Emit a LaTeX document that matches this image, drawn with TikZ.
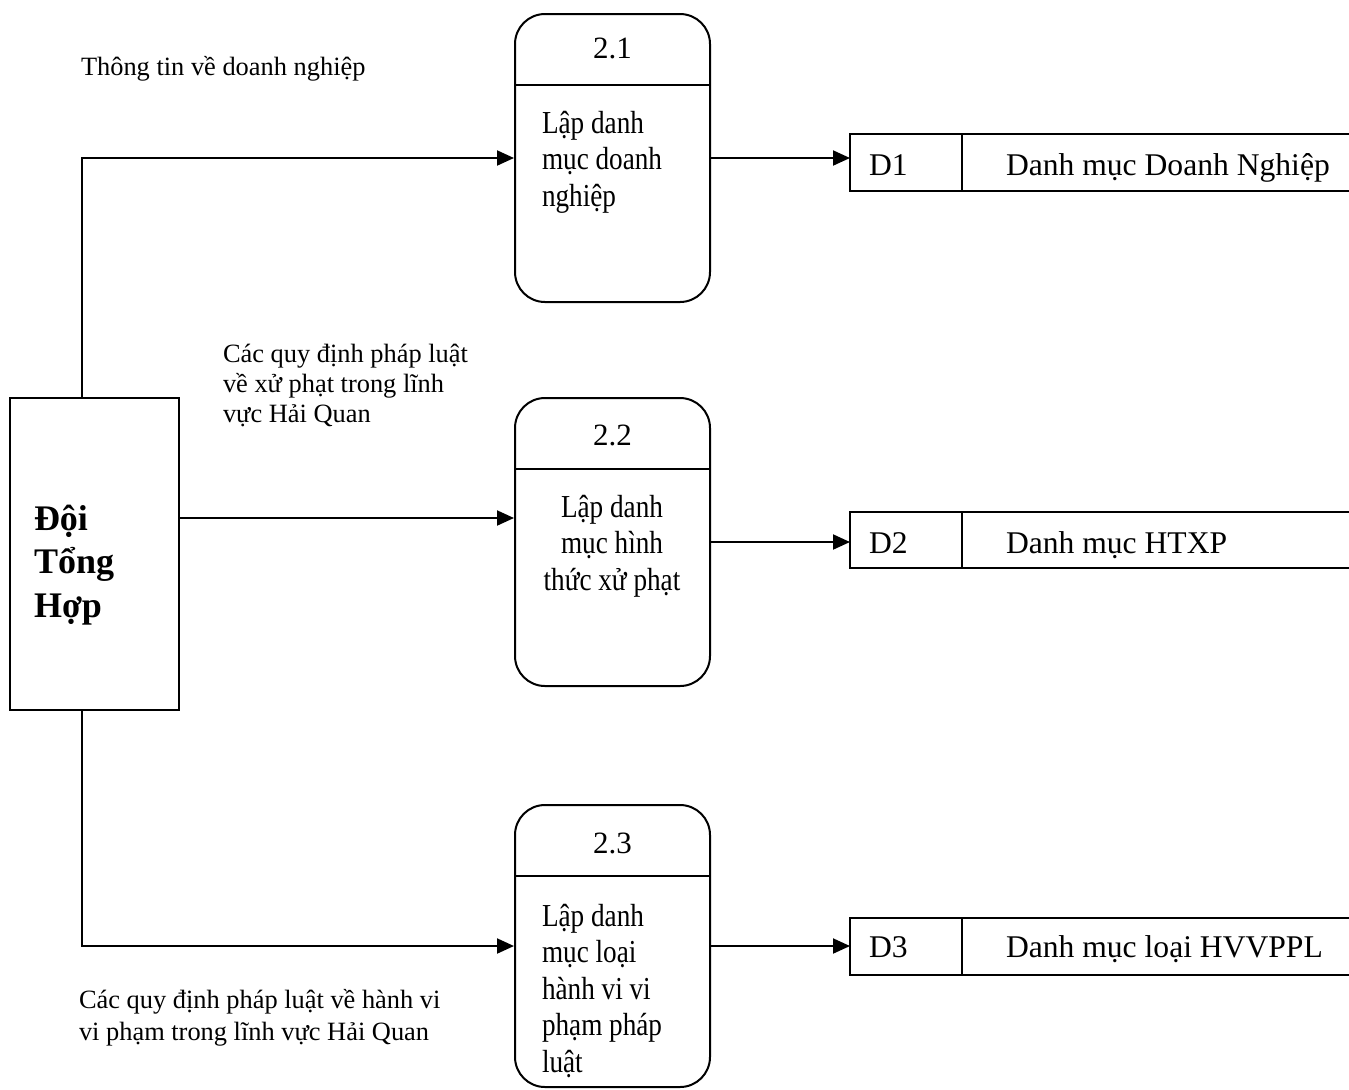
\documentclass[tikz,border=0pt]{standalone}
\usepackage{fontspec}
\setmainfont{Liberation Serif}
\newfontfamily\condfont{Liberation Serif}[FakeStretch=0.85]
\usetikzlibrary{arrows.meta}
\begin{document}
\begin{tikzpicture}[x=0.5pt,y={(0pt,-0.5pt)},
  line width=1pt,
  proc/.style={draw, rounded corners=15pt, minimum width=97.5pt, minimum height=144pt, inner sep=0pt},
  store/.style={minimum width=249.5pt, minimum height=27.5pt, inner sep=0pt, anchor=west},
  entity/.style={draw, minimum width=84.5pt, minimum height=156pt, inner sep=0pt},
  flow/.style={line width=1pt, -{Triangle[length=8.5pt,width=7.5pt]}},
  lbl/.style={font=\fontsize{13.2}{15}\selectfont, align=left, anchor=base west, inner sep=0pt},
  num/.style={font=\fontsize{15.5}{18}\selectfont, inner sep=0pt},
  body/.style={font=\condfont\fontsize{16}{18.25}\selectfont, inner sep=0pt, anchor=base west, align=left},
  stxt/.style={font=\fontsize{15.8}{18}\selectfont, inner sep=0pt, anchor=base west},
  ent/.style={font=\bfseries\fontsize{18}{21.75}\selectfont, inner sep=0pt, anchor=base west, align=left}
]
\useasboundingbox (0,0) rectangle (1349,1089);

% processes
\node[proc] (p1) at (612.5,158) {};
\node[proc] (p2) at (612.5,542) {};
\node[proc, minimum height=141pt] (p3) at (612.5,946) {};
\foreach \p in {p1,p2,p3}{
  \draw ([yshift=-36pt]\p.north west) -- ([yshift=-36pt]\p.north east);
}
\node[num] (n1) at (612.5,48) {2.1};
\node[num] (n2) at (612.5,435) {2.2};
\node[num] (n3) at (612.5,843) {2.3};
\node[body] (b1) at (541,206) {Lập danh\\mục doanh\\nghiệp};
\node[body, anchor=base, align=center] (b2) at (612,590) {Lập danh\\mục hình\\thức xử phạt};
\node[body] (b3) at (541,1072) {Lập danh\\mục loại\\hành vi vi\\phạm pháp\\luật};

% entity
\node[entity] (e) at (94.5,554) {};
\node[ent] (et) at (33,617) {Đội\\Tổng\\Hợp};

% stores
\node[store] (d1) at (850,162.5) {};
\node[store, minimum height=27pt] (d2) at (850,540) {};
\node[store] (d3) at (850,946.5) {};
\foreach \d in {d1,d2,d3}{
  \draw (\d.north east) -- (\d.north west) -- (\d.south west) -- (\d.south east);
  \draw ([xshift=56pt]\d.north west) -- ([xshift=56pt]\d.south west);
}
\node[stxt] (d1a) at (868,175) {D1};
\node[stxt] (d1b) at (1005,175) {Danh mục Doanh Nghiệp};
\node[stxt] (d2a) at (868,553) {D2};
\node[stxt] (d2b) at (1005,553) {Danh mục HTXP};
\node[stxt] (d3a) at (868,957) {D3};
\node[stxt] (d3b) at (1005,957) {Danh mục loại HVVPPL};

% flows
\coordinate (m) at (0,518);
\draw[flow] ([xshift=-6.25pt]e.north) |- (p1.west);
\draw[flow] (e.east |- m) -- (p2.west |- m);
\draw[flow] ([xshift=-6.25pt]e.south) |- (p3.west);
\draw[flow] (p1.east) -- (d1.west |- p1.east);
\draw[flow] (p2.east) -- (d2.west |- p2.east);
\draw[flow] (p3.east) -- (d3.west |- p3.east);

% labels
\node[lbl] (l1) at (80,75) {Thông tin về doanh nghiệp};
\node[lbl] (l2) at (222,422) {Các quy định pháp luật\\về xử phạt trong lĩnh\\vực Hải Quan};
\node[lbl, font=\fontsize{13.2}{16}\selectfont] (l3) at (78,1040) {Các quy định pháp luật về hành vi\\vi phạm trong lĩnh vực Hải Quan};
\end{tikzpicture}
\end{document}
